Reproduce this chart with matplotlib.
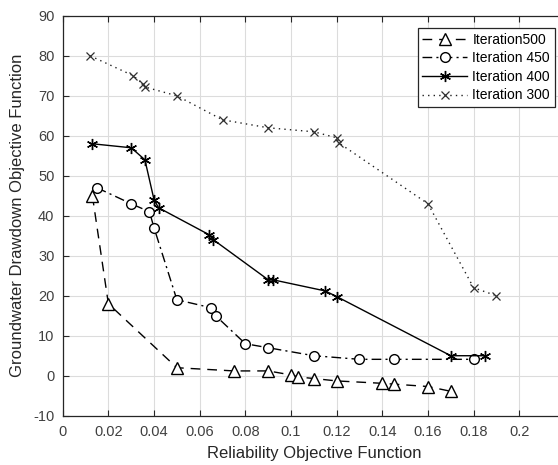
import matplotlib
matplotlib.use('Agg')
import matplotlib.pyplot as plt
import numpy as np

plt.rcParams['font.family'] = ['Liberation Sans', 'DejaVu Sans']

#### DATA ####
# Iteration 500 (triangles, dashed)
x500 = [0.013, 0.020, 0.050, 0.075, 0.090, 0.100, 0.103, 0.110, 0.120, 0.140, 0.145, 0.160, 0.170]
y500 = [45, 18, 2, 1.2, 1.2, 0.2, -0.3, -0.7, -1.3, -1.9, -2.1, -2.7, -3.9]

# Iteration 450 (circles, dash-dot)
x450 = [0.015, 0.030, 0.038, 0.040, 0.050, 0.065, 0.067, 0.080, 0.090, 0.110, 0.130, 0.145, 0.180]
y450 = [47, 43, 41, 37, 19, 17, 15, 8, 7, 5, 4.1, 4.1, 4.1]

# Iteration 400 (asterisks, solid)
x400 = [0.013, 0.030, 0.036, 0.040, 0.042, 0.064, 0.066, 0.090, 0.092, 0.115, 0.120, 0.170, 0.185]
y400 = [58, 57, 54, 44, 42, 35.3, 34, 24, 24, 21.2, 19.8, 5, 5]

# Iteration 300 (crosses, dotted)
x300 = [0.012, 0.031, 0.035, 0.036, 0.050, 0.070, 0.090, 0.110, 0.120, 0.121, 0.160, 0.180, 0.190]
y300 = [80, 75, 73, 72.2, 70, 64, 62, 61, 59.5, 58.2, 43, 22, 20]

labels = ['Iteration500', 'Iteration 450', 'Iteration 400', 'Iteration 300']
xticks = [0, 0.02, 0.04, 0.06, 0.08, 0.1, 0.12, 0.14, 0.16, 0.18, 0.2]
yticks = [-10, 0, 10, 20, 30, 40, 50, 60, 70, 80, 90]

#### PLOT ####
fig = plt.figure(figsize=(5.58, 4.65), dpi=100)
ax = fig.add_axes([0.1124, 0.106, 0.900, 0.860])

ax.plot(x500, y500, color='k', lw=1, linestyle=(0, (7, 5)), marker='^',
        mfc='white', mec='k', ms=8, mew=1, label=labels[0])
ax.plot(x450, y450, color='k', lw=1, linestyle=(0, (7, 3, 1.5, 3)), marker='o',
        mfc='white', mec='k', ms=7, mew=1, label=labels[1])
ax.plot(x400, y400, color='k', lw=1, linestyle='-', marker=(6, 2, 0),
        mec='k', ms=8, mew=1, label=labels[2])
ax.plot(x300, y300, color='#202020', lw=1, linestyle=(0, (1, 3)), marker='x',
        mec='#303030', ms=5.5, mew=0.9, label=labels[3])

ax.set_xlim(0, 0.22)
ax.set_ylim(-10, 90)
ax.set_xticks(xticks)
ax.set_xticklabels(['%g' % t for t in xticks])
ax.set_yticks(yticks)
ax.set_yticklabels(['%g' % t for t in yticks])

ax.grid(True, color='#dcdcdc', lw=0.8)
ax.set_axisbelow(True)
ax.tick_params(direction='in', top=True, right=True, length=4, width=0.8,
               colors='#262626', labelcolor='#404040', labelsize=10.5)
ax.tick_params(axis='x', pad=7)
ax.tick_params(axis='y', pad=6)
for s in ax.spines.values():
    s.set_color('#262626')
    s.set_linewidth(0.9)

ax.set_xlabel('Reliability Objective Function', fontsize=12, color='#262626', labelpad=5)
ax.set_ylabel('Groundwater Drawdown Objective Function', fontsize=12, color='#262626', labelpad=6)

leg = ax.legend(loc='upper right', bbox_to_anchor=(0.98, 0.97), fontsize=10,
                fancybox=False, framealpha=1, edgecolor='#262626',
                borderpad=0.35, labelspacing=0.33, handlelength=3.2,
                handletextpad=0.4, borderaxespad=0)
leg.get_frame().set_linewidth(0.9)

fig.savefig('out.png', dpi=100)
